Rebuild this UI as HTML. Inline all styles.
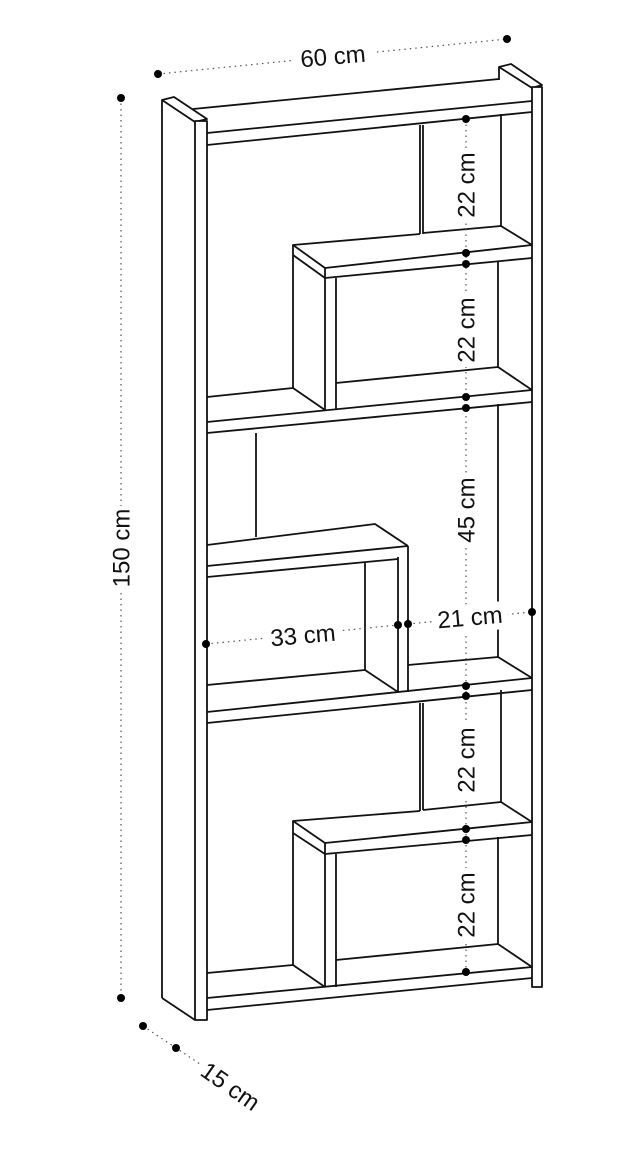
<!DOCTYPE html>
<html><head><meta charset="utf-8"><style>
html,body{margin:0;padding:0;background:#fff;}
svg{display:block;}
text{font-family:"Liberation Sans",Arial,sans-serif;font-size:24px;fill:#111;}
</style></head><body>
<svg width="633" height="1151" viewBox="0 0 633 1151" xmlns="http://www.w3.org/2000/svg">
<g fill="none" stroke="#111" stroke-width="1.8" stroke-linejoin="round">
<polygon points="162,100 174,97 207,119 195,122" fill="#fff"/>
<line x1="162" y1="100" x2="162" y2="998"/>
<line x1="162" y1="998" x2="195" y2="1020"/>
<rect x="195" y="121" width="12" height="899" fill="#fff"/>
<polygon points="499,67 511,64 542,85 532,88" fill="#fff"/>
<line x1="499" y1="67" x2="499" y2="80"/>
<rect x="532" y="87" width="10" height="900" fill="#fff"/>
<polyline points="193,109 499,79"/>
<line x1="207" y1="133" x2="532" y2="101"/>
<line x1="207" y1="145" x2="532" y2="112"/>
<line x1="420" y1="125" x2="420" y2="234"/>
<line x1="423" y1="125" x2="423" y2="234"/>
<line x1="501" y1="114" x2="501" y2="226"/>
<polyline points="423,233 501,226 532,245"/>
<polyline points="420,234 293,245 325,268 532,245"/>
<line x1="325" y1="278" x2="532" y2="258"/>
<line x1="293" y1="245" x2="293" y2="388"/>
<line x1="293" y1="255" x2="325" y2="278"/>
<line x1="293" y1="388" x2="325" y2="410"/>
<line x1="325" y1="268" x2="325" y2="410"/>
<line x1="336" y1="278" x2="336" y2="410"/>
<polyline points="336,383 498,367 532,390"/>
<line x1="498" y1="262" x2="498" y2="367"/>
<line x1="207" y1="397" x2="293" y2="388"/>
<line x1="207" y1="422" x2="532" y2="390"/>
<line x1="207" y1="433" x2="532" y2="402"/>
<line x1="256" y1="433" x2="256" y2="537"/>
<polyline points="207,545 375,524 408,546"/>
<line x1="207" y1="566" x2="408" y2="546"/>
<polyline points="207,577 398,559"/>
<line x1="408" y1="546" x2="408" y2="692"/>
<line x1="398" y1="557" x2="398" y2="692"/>
<line x1="365" y1="562" x2="365" y2="670"/>
<line x1="365" y1="670" x2="398" y2="692"/>
<line x1="207" y1="685" x2="365" y2="670"/>
<line x1="498" y1="404" x2="498" y2="657"/>
<polyline points="408,665 498,657 532,678"/>
<line x1="207" y1="712" x2="532" y2="678"/>
<line x1="207" y1="723" x2="532" y2="690"/>
<line x1="420" y1="703" x2="420" y2="811"/>
<line x1="423" y1="703" x2="423" y2="810"/>
<line x1="501" y1="690" x2="501" y2="802"/>
<polyline points="423,810 501,802 532,822"/>
<polyline points="420,811 293,821 325,843 532,822"/>
<line x1="325" y1="854" x2="532" y2="835"/>
<line x1="293" y1="821" x2="293" y2="965"/>
<line x1="293" y1="833" x2="325" y2="854"/>
<line x1="293" y1="965" x2="325" y2="987"/>
<line x1="325" y1="843" x2="325" y2="987"/>
<line x1="336" y1="854" x2="336" y2="987"/>
<polyline points="336,960 498,944 532,967"/>
<line x1="498" y1="837" x2="498" y2="944"/>
<line x1="207" y1="973" x2="293" y2="965"/>
<line x1="207" y1="998" x2="532" y2="967"/>
<line x1="207" y1="1010" x2="532" y2="978"/>
</g>
<g fill="none" stroke="#555" stroke-width="1.2" stroke-dasharray="1.5,4">
<line x1="158" y1="74" x2="507" y2="39"/>
<line x1="121" y1="98" x2="121" y2="998"/>
<line x1="143" y1="1026" x2="200" y2="1064"/>
<line x1="466" y1="119" x2="466" y2="972"/>
<line x1="206" y1="644" x2="398" y2="625"/>
<line x1="408" y1="624" x2="532" y2="612"/>
</g>
<g fill="#000">
<circle cx="158" cy="74" r="4"/><circle cx="507" cy="39" r="4"/>
<circle cx="121" cy="98" r="4"/><circle cx="121" cy="998" r="4"/>
<circle cx="143" cy="1026" r="4"/><circle cx="176" cy="1048" r="4"/>
<circle cx="466" cy="119" r="4"/><circle cx="466" cy="253" r="4"/>
<circle cx="466" cy="264" r="4"/><circle cx="466" cy="397" r="4"/>
<circle cx="466" cy="408" r="4"/><circle cx="466" cy="686" r="4"/>
<circle cx="466" cy="696" r="4"/><circle cx="466" cy="829" r="4"/>
<circle cx="466" cy="840" r="4"/><circle cx="466" cy="972" r="4"/>
<circle cx="206" cy="644" r="4"/><circle cx="398" cy="625" r="4"/>
<circle cx="408" cy="624" r="4"/><circle cx="532" cy="612" r="4"/>
</g>
<g fill="#fff">
<rect x="294" y="43" width="80" height="28" transform="rotate(-5 333 57)"/>
<rect x="108" y="506" width="28" height="86"/>
<rect x="452" y="148" width="30" height="74"/>
<rect x="452" y="293" width="30" height="74"/>
<rect x="452" y="473" width="30" height="74"/>
<rect x="452" y="723" width="30" height="74"/>
<rect x="452" y="868" width="30" height="74"/>
<rect x="263" y="622" width="80" height="28" transform="rotate(-5 303 636)"/>
<rect x="432" y="604" width="76" height="28" transform="rotate(-5 470 618)"/>
</g>
<g text-anchor="middle" dominant-baseline="central">
<text x="333" y="57" transform="rotate(-5 333 57)">60 cm</text>
<text x="122" y="548" transform="rotate(-90 122 548)">150 cm</text>
<text x="467" y="185" transform="rotate(-90 467 185)">22 cm</text>
<text x="467" y="330" transform="rotate(-90 467 330)">22 cm</text>
<text x="467" y="510" transform="rotate(-90 467 510)">45 cm</text>
<text x="467" y="760" transform="rotate(-90 467 760)">22 cm</text>
<text x="467" y="905" transform="rotate(-90 467 905)">22 cm</text>
<text x="303" y="636" transform="rotate(-5 303 636)">33 cm</text>
<text x="470" y="618" transform="rotate(-5 470 618)">21 cm</text>
<text x="230" y="1087" transform="rotate(35 230 1087)">15 cm</text>
</g>
</svg>
</body></html>
